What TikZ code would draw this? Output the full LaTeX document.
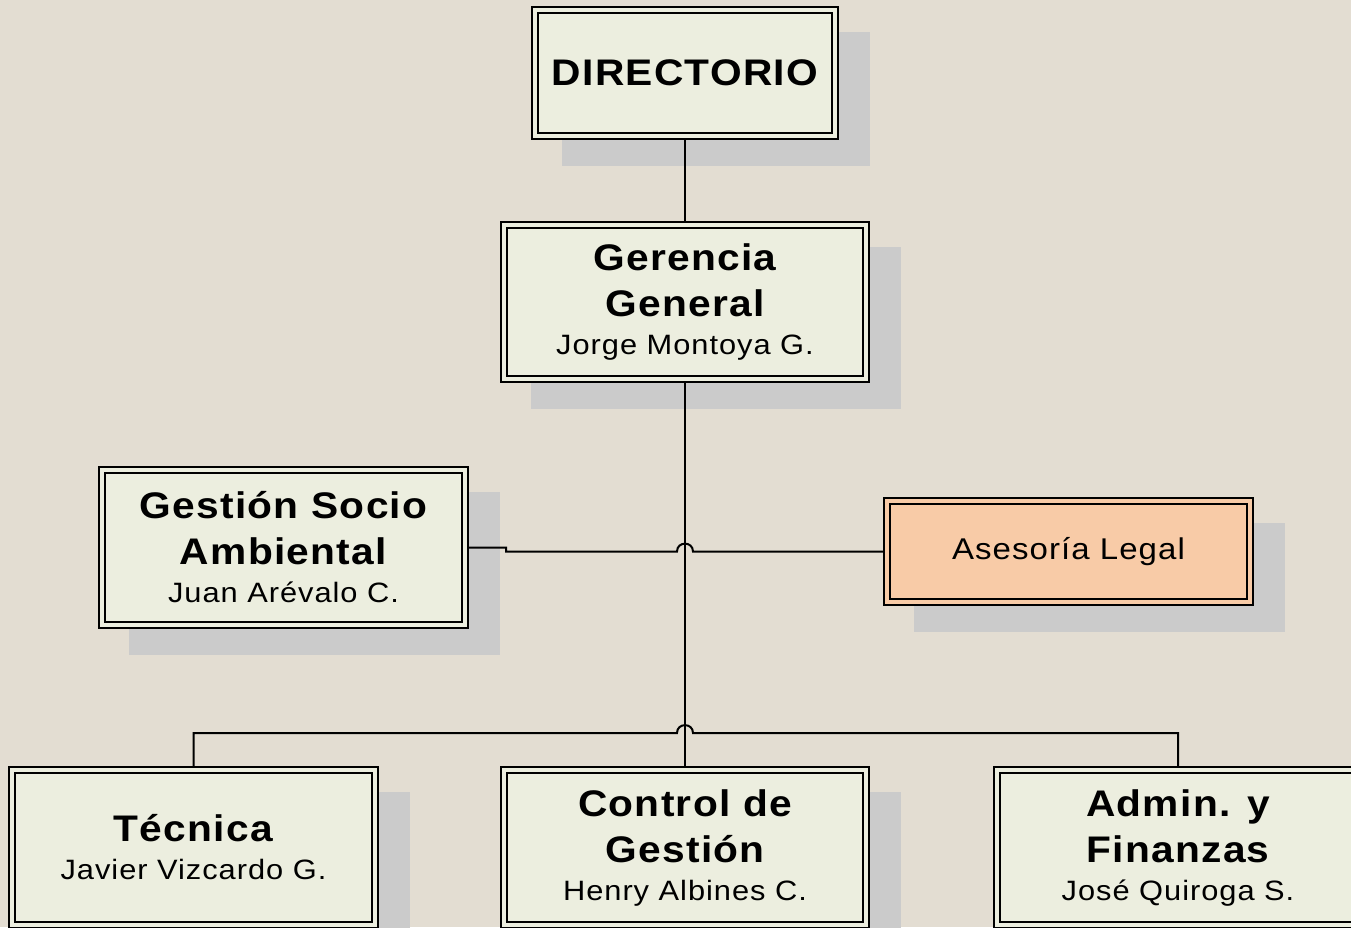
\documentclass[tikz,border=0pt]{standalone}
\usepackage{fontspec}
\setmainfont{Liberation Sans}[LetterSpace=3.5,FakeStretch=1.1]
\usetikzlibrary{calc}
\pgfdeclarelayer{shadowlayer}
\pgfdeclarelayer{linelayer}
\pgfsetlayers{shadowlayer,linelayer,main}
\definecolor{bgc}{RGB}{227,221,210}
\definecolor{boxc}{RGB}{236,238,223}
\definecolor{shc}{RGB}{203,203,203}
\definecolor{legc}{RGB}{248,203,167}
\newcommand\ttlf{\fontsize{37}{45}\selectfont\bfseries}
\begin{document}
\begin{tikzpicture}[x=1pt,y=-1pt,
  orgbox/.style={rectangle, draw=black, line width=2pt, double=boxc, double distance=4pt,
    fill=boxc, inner sep=0pt, outer sep=0pt, align=center,
    font=\fontsize{28}{38}\selectfont, minimum width=363pt, minimum height=155pt},
  legalbox/.style={orgbox, fill=legc, double=legc},
  conn/.style={draw=black, line width=2pt}]
\useasboundingbox (0,0) rectangle (1351,927);
\begin{pgfonlayer}{shadowlayer}
\fill[bgc] (0,0) rectangle (1351,927);
\end{pgfonlayer}

\node[orgbox, minimum width=300pt, minimum height=126pt] (dir) at (685,73)
  {\fontsize{37}{46}\selectfont\bfseries DIRECTORIO};
\node[orgbox, minimum width=362pt, minimum height=154pt] (gg) at (685,302)
  {\ttlf Gerencia\\[8pt]\ttlf General\\Jorge Montoya G.};
\node[orgbox] (gsa) at (283.5,547.5)
  {\ttlf Gestión Socio\\[8pt]\ttlf Ambiental\\Juan Arévalo C.};
\node[legalbox, minimum height=101pt] (al) at (1068.5,551.5)
  {\fontsize{30}{36}\selectfont Asesoría Legal};
\node[orgbox] (tec) at (193.5,847.5)
  {\ttlf Técnica\\Javier Vizcardo G.};
\node[orgbox, minimum width=362pt] (cg) at (685,847.5)
  {\ttlf Control de\\[8pt]\ttlf Gestión\\Henry Albines C.};
\node[orgbox] (af) at (1178,847.5)
  {\ttlf Admin. y\\[8pt]\ttlf Finanzas\\José Quiroga S.};

\begin{pgfonlayer}{shadowlayer}
\foreach \n in {dir,gg,gsa,al,tec,cg,af}
  \fill[shc] ([shift={(27,22)}]\n.north west) rectangle ([shift={(35,30)}]\n.south east);
\end{pgfonlayer}

\begin{pgfonlayer}{linelayer}
\draw[conn] (dir) -- (gg);
\draw[conn] (gg) -- (cg);
\coordinate (x1) at (gg.south |- al.west);
\coordinate (jog) at ($(gsa.east)+(41,0)$);
\draw[conn] (al.west) -- ($(x1)+(8,0)$) .. controls +(0,-10.5) and +(0,-10.5) .. ($(x1)+(-8,0)$)
  -- (jog |- x1) -- (jog) -- (gsa.east);
\coordinate (bus) at ($(cg.north)+(0,-37)$);
\draw[conn] (tec.north) |- ($(bus)+(-8,0)$) .. controls +(0,-10.5) and +(0,-10.5) .. ($(bus)+(8,0)$)
  -| (af.north);
\end{pgfonlayer}
\end{tikzpicture}
\end{document}
